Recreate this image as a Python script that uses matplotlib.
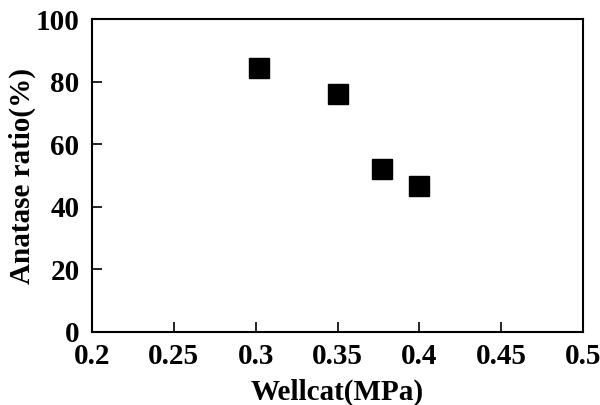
import matplotlib
matplotlib.use('Agg')
import matplotlib.pyplot as plt

# data
pressure = [0.302, 0.3505, 0.377, 0.400]
anatase = [84.5, 76.0, 52.0, 46.6]

xticks = [0.2, 0.25, 0.3, 0.35, 0.4, 0.45, 0.5]
xticklabels = ['0.2', '0.25', '0.3', '0.35', '0.4', '0.45', '0.5']
yticks = [0, 20, 40, 60, 80, 100]

plt.rcParams['font.family'] = 'Liberation Serif'
plt.rcParams['font.weight'] = 'bold'

fig = plt.figure(figsize=(6, 4.05), dpi=100)
ax = fig.add_axes([92/600, 1-332/405, 491/600, 313/405])

ax.plot(pressure, anatase, 's', color='black', markersize=14, linestyle='none')

ax.set_xlim(0.2, 0.5)
ax.set_ylim(0, 100)
ax.set_xticks(xticks)
ax.set_xticklabels(xticklabels)
ax.set_yticks(yticks)
ax.tick_params(direction='in', length=7, width=1.2, labelsize=21)
ax.tick_params(axis='x', pad=8)
ax.tick_params(axis='y', pad=9)
for s in ax.spines.values():
    s.set_linewidth(1.5)

ax.set_xlabel('Wellcat(MPa)', fontsize=21, fontweight='bold', labelpad=6)
ax.set_ylabel('Anatase ratio(%)', fontsize=21, fontweight='bold', labelpad=0)

fig.savefig('out.png', dpi=100)
